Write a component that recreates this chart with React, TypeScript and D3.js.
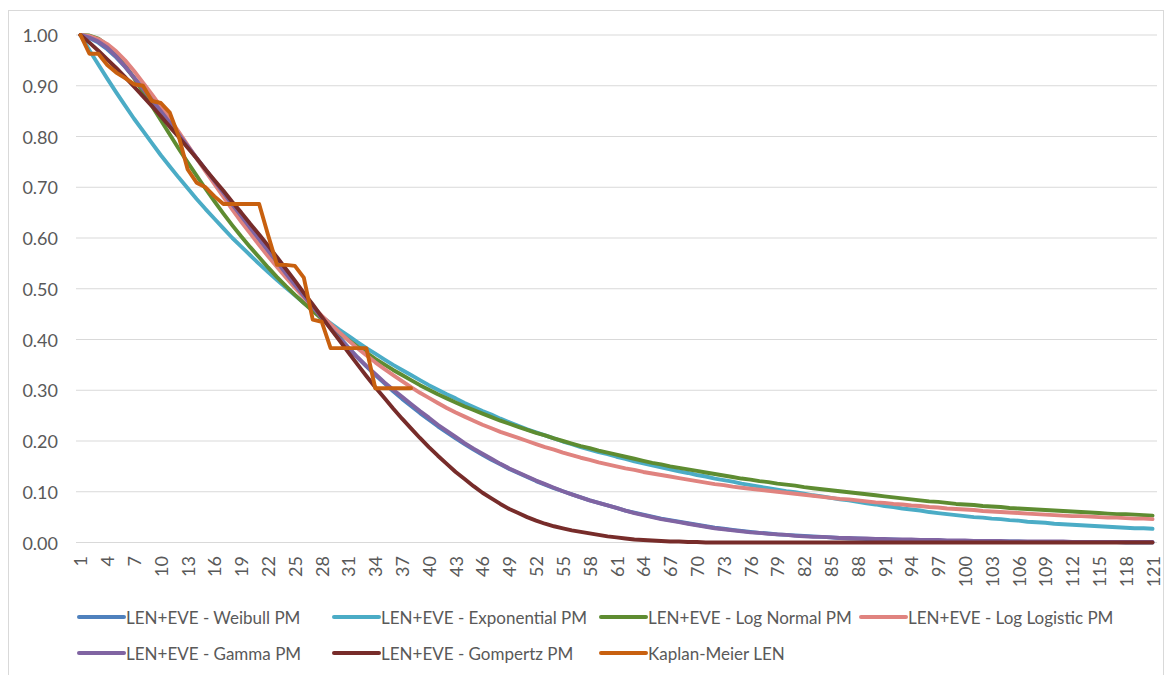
import React from "react";
import * as d3 from "d3";

const categories: number[] = d3.range(1, 122);
const yTicks = [0, 0.1, 0.2, 0.3, 0.4, 0.5, 0.6, 0.7, 0.8, 0.9, 1.0];

const weibull = [
  1.000,0.994,0.985,0.972,0.956,0.937,0.916,0.894,0.871,0.849,
  0.826,0.803,0.780,0.757,0.734,0.711,0.688,0.665,0.642,0.620,
  0.597,0.575,0.553,0.531,0.509,0.487,0.466,0.445,0.424,0.404,
  0.384,0.365,0.347,0.330,0.314,0.298,0.283,0.269,0.255,0.242,
  0.229,0.217,0.205,0.194,0.183,0.173,0.163,0.154,0.145,0.137,
  0.129,0.121,0.114,0.107,0.101,0.095,0.089,0.083,0.078,0.073,
  0.068,0.063,0.059,0.055,0.051,0.047,0.044,0.041,0.038,0.035,
  0.032,0.029,0.027,0.025,0.023,0.021,0.019,0.018,0.016,0.015,
  0.014,0.013,0.012,0.011,0.010,0.009,0.008,0.008,0.007,0.007,
  0.006,0.006,0.005,0.005,0.004,0.004,0.004,0.003,0.003,0.003,
  0.003,0.002,0.002,0.002,0.002,0.002,0.001,0.001,0.001,0.001,
  0.001,0.001,0.001,0.001,0.001,0.001,0.001,0.000,0.000,0.000,
  0.000,
];

const exponential = [
  1.000,0.970,0.942,0.914,0.887,0.861,0.835,0.811,0.787,0.763,
  0.741,0.719,0.698,0.677,0.657,0.638,0.619,0.600,0.583,0.566,
  0.549,0.533,0.517,0.502,0.487,0.472,0.458,0.445,0.432,0.419,
  0.407,0.395,0.383,0.372,0.361,0.350,0.340,0.330,0.320,0.310,
  0.301,0.292,0.284,0.275,0.267,0.259,0.252,0.244,0.237,0.230,
  0.223,0.217,0.211,0.205,0.199,0.194,0.188,0.183,0.178,0.174,
  0.169,0.165,0.160,0.156,0.152,0.148,0.144,0.140,0.137,0.133,
  0.130,0.126,0.123,0.120,0.116,0.113,0.110,0.107,0.104,0.101,
  0.099,0.096,0.093,0.091,0.088,0.085,0.083,0.080,0.077,0.075,
  0.072,0.070,0.067,0.065,0.063,0.060,0.058,0.056,0.054,0.052,
  0.050,0.049,0.047,0.046,0.044,0.043,0.041,0.040,0.039,0.037,
  0.036,0.035,0.034,0.033,0.032,0.031,0.030,0.029,0.028,0.028,
  0.027,
];

const logNormal = [
  1.000,0.999,0.993,0.980,0.962,0.940,0.915,0.888,0.860,0.832,
  0.804,0.776,0.749,0.723,0.697,0.672,0.648,0.625,0.603,0.582,
  0.562,0.542,0.523,0.505,0.488,0.472,0.456,0.441,0.426,0.412,
  0.399,0.386,0.374,0.362,0.351,0.340,0.330,0.320,0.310,0.301,
  0.292,0.284,0.276,0.268,0.261,0.254,0.247,0.240,0.234,0.228,
  0.222,0.216,0.211,0.205,0.200,0.195,0.190,0.186,0.181,0.177,
  0.173,0.169,0.165,0.161,0.157,0.154,0.150,0.147,0.144,0.141,
  0.138,0.135,0.132,0.129,0.126,0.124,0.121,0.119,0.116,0.114,
  0.112,0.109,0.107,0.105,0.103,0.101,0.099,0.097,0.095,0.093,
  0.091,0.089,0.087,0.085,0.083,0.081,0.080,0.078,0.076,0.075,
  0.074,0.072,0.071,0.070,0.068,0.067,0.066,0.065,0.064,0.063,
  0.062,0.061,0.060,0.059,0.058,0.057,0.056,0.056,0.055,0.054,
  0.053,
];

const logLogistic = [
  1.000,0.998,0.992,0.982,0.968,0.950,0.929,0.906,0.883,0.859,
  0.834,0.809,0.783,0.757,0.731,0.706,0.681,0.656,0.632,0.609,
  0.586,0.564,0.543,0.522,0.502,0.483,0.465,0.447,0.430,0.414,
  0.398,0.383,0.369,0.355,0.342,0.330,0.318,0.306,0.295,0.285,
  0.275,0.265,0.256,0.248,0.240,0.232,0.225,0.218,0.212,0.206,
  0.200,0.194,0.188,0.183,0.177,0.172,0.167,0.163,0.158,0.154,
  0.150,0.146,0.143,0.139,0.136,0.133,0.130,0.127,0.124,0.121,
  0.118,0.115,0.113,0.110,0.108,0.106,0.104,0.102,0.100,0.098,
  0.096,0.094,0.092,0.090,0.088,0.086,0.085,0.083,0.081,0.079,
  0.078,0.076,0.075,0.073,0.072,0.070,0.069,0.067,0.066,0.065,
  0.064,0.062,0.061,0.060,0.059,0.058,0.057,0.056,0.055,0.054,
  0.053,0.052,0.052,0.051,0.050,0.049,0.049,0.048,0.047,0.047,
  0.046,
];

const gamma = [
  1.000,0.995,0.987,0.975,0.958,0.938,0.916,0.894,0.872,0.850,
  0.827,0.804,0.781,0.758,0.735,0.712,0.689,0.666,0.643,0.620,
  0.598,0.575,0.553,0.530,0.508,0.486,0.464,0.443,0.422,0.402,
  0.383,0.365,0.348,0.332,0.316,0.301,0.287,0.273,0.259,0.246,
  0.232,0.220,0.208,0.196,0.185,0.175,0.165,0.155,0.146,0.138,
  0.130,0.122,0.115,0.108,0.101,0.095,0.089,0.083,0.078,0.073,
  0.068,0.063,0.058,0.054,0.050,0.046,0.043,0.040,0.037,0.034,
  0.031,0.028,0.026,0.024,0.022,0.020,0.019,0.017,0.016,0.015,
  0.013,0.012,0.011,0.011,0.010,0.009,0.009,0.008,0.008,0.007,
  0.007,0.006,0.006,0.006,0.005,0.005,0.005,0.004,0.004,0.004,
  0.003,0.003,0.003,0.003,0.002,0.002,0.002,0.002,0.002,0.002,
  0.002,0.001,0.001,0.001,0.001,0.001,0.001,0.001,0.001,0.001,
  0.001,
];

const gompertz = [
  1.000,0.985,0.969,0.952,0.935,0.917,0.898,0.879,0.860,0.840,
  0.819,0.799,0.778,0.757,0.735,0.714,0.693,0.671,0.650,0.628,
  0.607,0.585,0.562,0.539,0.516,0.492,0.469,0.445,0.421,0.398,
  0.374,0.351,0.328,0.306,0.285,0.264,0.244,0.225,0.206,0.188,
  0.171,0.155,0.139,0.125,0.111,0.098,0.087,0.076,0.066,0.058,
  0.050,0.043,0.037,0.032,0.028,0.024,0.021,0.018,0.015,0.012,
  0.010,0.008,0.006,0.005,0.004,0.003,0.002,0.002,0.001,0.001,
  0,0,0,0,0,0,0,0,0,0,
  0,0,0,0,0,0,0,0,0,0,
  0,0,0,0,0,0,0,0,0,0,
  0,0,0,0,0,0,0,0,0,0,
  0,0,0,0,0,0,0,0,0,0,
  0,
];

const kaplanMeier = [
  1.000,0.963,0.963,0.941,0.926,0.915,0.903,0.900,0.870,0.866,
  0.847,0.800,0.735,0.709,0.700,0.682,0.667,0.667,0.667,0.667,
  0.667,0.606,0.547,0.547,0.545,0.522,0.439,0.435,0.383,0.383,
  0.383,0.383,0.383,0.304,0.304,0.304,0.304,0.304,
];

const seriesNames = [
  "LEN+EVE - Weibull PM",
  "LEN+EVE - Exponential PM",
  "LEN+EVE - Log Normal PM",
  "LEN+EVE - Log Logistic PM",
  "LEN+EVE - Gamma PM",
  "LEN+EVE - Gompertz PM",
  "Kaplan-Meier LEN",
];
const seriesValues = [weibull, exponential, logNormal, logLogistic, gamma, gompertz, kaplanMeier];
const seriesColors = ["#4F81BD", "#4BACC6", "#5E8C31", "#E0837F", "#8064A2", "#772C2A", "#C8600F"];

const W = 1168;
const H = 675;
const FONT = "Lato, 'Open Sans', sans-serif";
const TEXT = "#595959";
const GRID = "#D9D9D9";

// legend layout: [row y, column x]
const legendPos: [number, number][] = [
  [617, 79], [617, 334], [617, 601], [617, 861],
  [653, 79], [653, 334], [653, 601],
];

export default function App() {
  const x = d3.scaleBand<number>().domain(categories).range([76, 1157]);
  const bw = x.bandwidth();
  const cx = (c: number) => (x(c) as number) + bw / 2;
  const y = d3.scaleLinear().domain([0, 1]).range([542.5, 35]);

  const line = d3
    .line<number>()
    .x((_, i) => cx(categories[i]))
    .y((v) => y(v));

  const xLabels = categories.filter((c) => (c - 1) % 3 === 0);

  return (
    <svg
      width={W}
      height={H}
      style={{ position: "absolute", left: 0, top: 0, background: "#fff" }}
      fontFamily={FONT}
    >
      <rect x={0} y={0} width={W} height={H} fill="#fff" />
      <rect x={8.5} y={10.5} width={1155} height={700} fill="none" stroke="#D9D9D9" strokeWidth={1} />
      {yTicks.map((t) => (
        <g key={t}>
          <line x1={76} x2={1157} y1={y(t)} y2={y(t)} stroke={GRID} strokeWidth={1.2} />
          <text x={58} y={y(t)} textAnchor="end" dominantBaseline="central" fontSize={18} fill={TEXT}>
            {t.toFixed(2)}
          </text>
        </g>
      ))}
      {xLabels.map((c) => (
        <text
          key={c}
          transform={`translate(${cx(c)},${556}) rotate(-90)`}
          textAnchor="end"
          dominantBaseline="central"
          fontSize={18}
          fill={TEXT}
        >
          {c}
        </text>
      ))}
      {seriesValues.map((vals, si) => (
        <path
          key={si}
          d={line(vals) || ""}
          fill="none"
          stroke={seriesColors[si]}
          strokeWidth={3.9}
          strokeLinejoin="round"
          strokeLinecap="round"
        />
      ))}
      {seriesNames.map((name, si) => {
        const [ly, lx] = legendPos[si];
        return (
          <g key={name}>
            <line x1={lx} x2={lx + 45} y1={ly} y2={ly} stroke={seriesColors[si]} strokeWidth={4} strokeLinecap="round" />
            <text x={lx + 47} y={ly} dominantBaseline="central" fontSize={17} fill={TEXT}>
              {name}
            </text>
          </g>
        );
      })}
    </svg>
  );
}
